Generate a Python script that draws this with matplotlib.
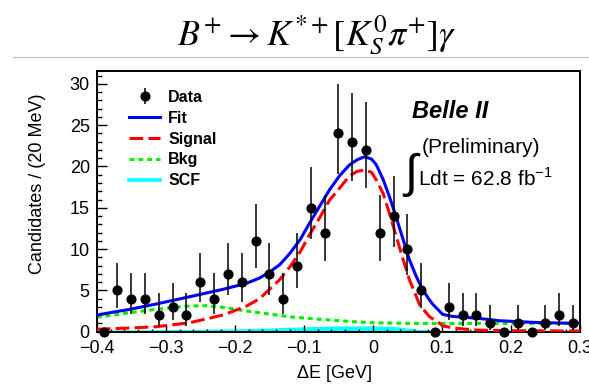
import numpy as np
import matplotlib
matplotlib.use("Agg")
import matplotlib.pyplot as plt
from matplotlib.lines import Line2D

plt.rcParams['font.family'] = ['Liberation Sans', 'DejaVu Sans']

# data histogram, 20 MeV bins
bin_centers = [-0.39, -0.37, -0.35, -0.33, -0.31, -0.29, -0.27, -0.25, -0.23, -0.21,
               -0.19, -0.17, -0.15, -0.13, -0.11, -0.09, -0.07, -0.05, -0.03, -0.01,
               0.01, 0.03, 0.05, 0.07, 0.09, 0.11, 0.13, 0.15, 0.17, 0.19,
               0.21, 0.23, 0.25, 0.27, 0.29]
counts = [0, 5, 4, 4, 2, 3, 2, 6, 4, 7,
          6, 11, 7, 4, 8, 15, 12, 24, 23, 22,
          12, 14, 10, 5, 0, 3, 2, 2, 1, 0,
          1, 0, 1, 2, 1]

# fit components
fit_x = [-0.40, -0.352, -0.314, -0.265, -0.217, -0.183, -0.164, -0.150, -0.135, -0.120,
         -0.105, -0.092, -0.077, -0.063, -0.048, -0.034, -0.023, -0.012, -0.002, 0.005,
         0.015, 0.024, 0.034, 0.044, 0.053, 0.063, 0.072, 0.082, 0.087, 0.101,
         0.115, 0.135, 0.160, 0.183, 0.210, 0.232, 0.265, 0.30]
fit_y = [2.02, 2.71, 3.35, 4.24, 5.13, 5.86, 6.5, 7.2, 8.1, 9.5,
         11.2, 13.1, 15.2, 17.15, 18.9, 20.18, 20.8, 21.19, 20.9, 20.2,
         18.4, 16.34, 13.8, 11.1, 8.7, 6.66, 5.1, 3.84, 3.3, 2.1,
         1.85, 1.74, 1.55, 1.33, 1.22, 1.13, 1.06, 1.01]

sig_x = [-0.40, -0.352, -0.314, -0.265, -0.217, -0.183, -0.164, -0.150, -0.135, -0.120,
         -0.105, -0.092, -0.077, -0.063, -0.048, -0.034, -0.023, -0.012, -0.002, 0.005,
         0.015, 0.024, 0.034, 0.044, 0.053, 0.063, 0.068, 0.082, 0.097, 0.101,
         0.121, 0.150, 0.20, 0.30]
sig_y = [0.29, 0.45, 0.6, 1.09, 2.02, 3.1, 4.0, 5.1, 6.3, 7.87,
         9.7, 11.7, 13.8, 15.9, 17.4, 18.85, 19.4, 19.58, 19.3, 18.37,
         16.7, 14.33, 11.5, 8.68, 6.3, 4.24, 3.2, 1.82, 1.0, 0.7,
         0.4, 0.2, 0.12, 0.08]

bkg_x = [-0.40, -0.352, -0.314, -0.265, -0.241, -0.217, -0.183, -0.150, -0.120, -0.092,
         -0.063, -0.030, -0.005, 0.053, 0.10, 0.20, 0.30]
bkg_y = [1.74, 2.3, 2.71, 3.11, 3.15, 2.95, 2.5, 2.14, 1.8, 1.6,
         1.42, 1.22, 1.09, 1.01, 1.0, 1.0, 1.0]

scf_x = [-0.40, -0.30, -0.20, -0.15, -0.10, -0.05, 0.0, 0.03, 0.05, 0.07, 0.10, 0.20, 0.30]
scf_y = [0.05, 0.1, 0.2, 0.3, 0.45, 0.55, 0.55, 0.5, 0.3, 0.12, 0.03, 0.01, 0.0]

# Poisson errors (Gehrels approximation); zero bins drawn without bars
n = np.array(counts, dtype=float)
err_hi = np.where(n > 0, (n + 1) * (1 - 1 / (9 * (n + 1)) + 1 / (3 * np.sqrt(n + 1))) ** 3 - n, 0)
nn = np.where(n > 0, n, 1)
err_lo = np.where(n > 0, n - nn * (1 - 1 / (9 * nn) - 1 / (3 * np.sqrt(nn))) ** 3, 0)

fig = plt.figure(figsize=(5.89, 3.89), dpi=100)
ax = fig.add_axes([0.1642, 0.1473, 0.8205, 0.6702])

ax.fill_between(scf_x, 0, scf_y, color='#00ffff', lw=0, zorder=1)
ax.plot(scf_x, scf_y, color='#00ffff', lw=1.0, zorder=1)
ax.plot(bkg_x, bkg_y, color='#00ee00', lw=2.2, dashes=(1.6, 1.3), zorder=2)
ax.plot(sig_x, sig_y, color='#ff0000', lw=2.2, dashes=(4.5, 1.7), zorder=3)
ax.plot(fit_x, fit_y, color='#0000ff', lw=2.2, zorder=4)
ax.errorbar(bin_centers, counts, yerr=[err_lo, err_hi], fmt='o', color='black',
            ms=6.3, elinewidth=1.1, capsize=0, zorder=5, clip_on=False)

ax.set_xlim(-0.4, 0.3)
ax.set_ylim(0, 31.56)
ax.set_xticks(np.arange(-0.4, 0.31, 0.1))
ax.set_xticks(np.arange(-0.4, 0.301, 0.02), minor=True)
ax.set_yticks(np.arange(0, 31, 5))
ax.set_yticks(np.arange(0, 32, 1), minor=True)
ax.set_xticklabels(['\u22120.4', '\u22120.3', '\u22120.2', '\u22120.1', '0', '0.1', '0.2', '0.3'])
ax.tick_params(axis='both', which='both', direction='in', top=False, right=False,
               labelsize=13, width=1.0)
ax.tick_params(axis='x', which='major', length=4.7, pad=6)
ax.tick_params(axis='x', which='minor', length=2.5)
ax.tick_params(axis='y', which='major', length=7.2, pad=5)
ax.tick_params(axis='y', which='minor', length=3.6)
for s in ax.spines.values():
    s.set_linewidth(1.4)

ax.set_xlabel('\u0394E [GeV]', fontsize=13)
ax.xaxis.set_label_coords(0.493, -0.128)
ax.set_ylabel('Candidates / (20 MeV)', fontsize=13)
ax.yaxis.set_label_coords(-0.105, 0.567)

data_handle = ax.errorbar([], [], yerr=[], fmt='o', color='black', ms=6.3, elinewidth=1.1)
handles = [
    data_handle,
    Line2D([], [], color='#0000ff', lw=2.2),
    Line2D([], [], color='#ff0000', lw=2.2, dashes=(4.5, 1.7)),
    Line2D([], [], color='#00ee00', lw=2.2, dashes=(1.6, 1.3)),
    Line2D([], [], color='#00ffff', lw=2.6),
]
ax.legend(handles, ['Data', 'Fit', 'Signal', 'Bkg', 'SCF'], loc='upper left',
          bbox_to_anchor=(0.067, 0.928), frameon=False, borderpad=0, borderaxespad=0,
          prop={'weight': 'bold', 'size': 11.5}, handlelength=1.94,
          handletextpad=0.5, labelspacing=0.37)

ax.text(0.731, 0.844, 'Belle II', transform=ax.transAxes, ha='center', va='center',
        fontsize=17, fontweight='bold', fontstyle='italic')
ax.text(0.6725, 0.707, '(Preliminary)', transform=ax.transAxes, ha='left', va='center',
        fontsize=15)
ax.text(0.665, 0.559, r'Ldt = 62.8 fb$^{\mathregular{-1}}$', transform=ax.transAxes,
        ha='left', va='baseline', fontsize=15)
ax.text(0.649, 0.602, '\u222b', transform=ax.transAxes, ha='center', va='center',
        fontsize=34, family=['Liberation Sans', 'DejaVu Sans'])

fig.add_artist(Line2D([0.0216, 1.0], [0.8535, 0.8535], transform=fig.transFigure,
                      color='#bdbdbd', lw=0.8, zorder=0))
fig.text(0.538, 0.8843, r'$B^{+}\rightarrow K^{*+}[K_{S}^{0}\pi^{+}]\gamma$',
         ha='center', va='baseline', fontsize=26, math_fontfamily='stix')

fig.savefig('out.png', dpi=100)
